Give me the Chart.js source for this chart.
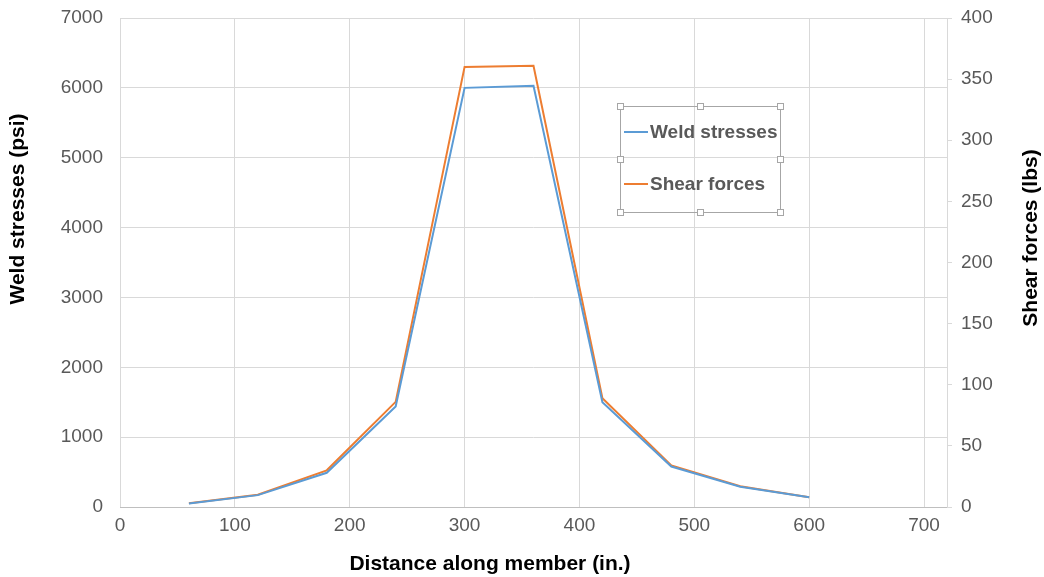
<!DOCTYPE html>
<html>
<head>
<meta charset="utf-8">
<script src="https://cdn.jsdelivr.net/npm/chart.js@4/dist/chart.umd.min.js"></script>
<style>
  html, body { margin: 0; padding: 0; background: #fff; }
  #wrap { width: 1044px; height: 577px; position: relative; }
</style>
</head>
<body>
<div id="wrap"><canvas id="weldChart"></canvas></div>
<script>
// Data
const distances = [60, 120, 180, 240, 300, 360, 420, 480, 540, 600];
const weldStresses = [50, 170, 490, 1440, 6000, 6030, 1500, 580, 290, 140];
const shearForces = [3, 10, 30, 86, 360, 361, 89, 34, 17, 8];
const xTicks = [0, 100, 200, 300, 400, 500, 600, 700];

const colors = {
    weld: '#5B9BD5',
    shear: '#ED7D31',
    grid: '#D9D9D9',
    tick: '#595959',
    title: '#000000'
};

const FONT = '"Liberation Sans", Arial, sans-serif';
const toPoints = (ys) => distances.map((x, i) => ({ x: x, y: ys[i] }));

// Axis titles (Excel puts both vertical titles bottom-to-top)
const axisTitles = {
    id: 'axisTitles',
    afterDraw(chart) {
        const ctx = chart.ctx;
        ctx.save();
        ctx.fillStyle = colors.title;
        ctx.font = 'bold 21px ' + FONT;
        ctx.textAlign = 'center';
        ctx.textBaseline = 'middle';
        ctx.fillText('Distance along member (in.)', 490, 564);
        [[18, 209, 'Weld stresses (psi)'], [1031, 238, 'Shear forces (lbs)']].forEach(([x, y, t]) => {
            ctx.save();
            ctx.translate(x, y);
            ctx.rotate(-Math.PI / 2);
            ctx.fillText(t, 0, 0);
            ctx.restore();
        });
        ctx.restore();
    }
};

// Legend box drawn inside the plot area, Excel style with selection handles
const boxLegend = {
    id: 'boxLegend',
    afterDraw(chart) {
        const ctx = chart.ctx;
        const x = 620, y = 106, w = 160, h = 106;
        ctx.save();
        ctx.strokeStyle = '#A6A6A6';
        ctx.lineWidth = 1;
        ctx.strokeRect(x + 0.5, y + 0.5, w, h);
        chart.data.datasets.forEach((ds, i) => {
            const ly = y + 26 + i * 52;
            ctx.strokeStyle = ds.borderColor;
            ctx.lineWidth = 2;
            ctx.beginPath();
            ctx.moveTo(x + 4, ly);
            ctx.lineTo(x + 28, ly);
            ctx.stroke();
            ctx.fillStyle = colors.tick;
            ctx.font = 'bold 19px ' + FONT;
            ctx.textBaseline = 'middle';
            ctx.fillText(ds.label, x + 30, ly + 1);
        });
        const hs = [[x, y], [x + w / 2, y], [x + w, y], [x, y + h / 2], [x + w, y + h / 2],
                    [x, y + h], [x + w / 2, y + h], [x + w, y + h]];
        ctx.lineWidth = 1;
        ctx.strokeStyle = '#A6A6A6';
        ctx.fillStyle = '#FFFFFF';
        hs.forEach(([hx, hy]) => {
            ctx.fillRect(Math.round(hx) - 2.5, Math.round(hy) - 2.5, 6, 6);
            ctx.strokeRect(Math.round(hx) - 2.5, Math.round(hy) - 2.5, 6, 6);
        });
        ctx.restore();
    }
};

const tickFont = { family: FONT, size: 19 };
const plain = (v) => String(v);
const fitY = (width) => (axis) => {
    axis.width = width;
    axis.paddingTop = 0;
    axis.paddingBottom = 0;
};

new Chart(document.getElementById('weldChart'), {
    type: 'scatter',
    data: {
        datasets: [{
            label: 'Weld stresses',
            data: toPoints(weldStresses),
            yAxisID: 'y',
            showLine: true,
            borderColor: colors.weld,
            backgroundColor: colors.weld,
            borderWidth: 2,
            pointRadius: 0,
            tension: 0
        }, {
            label: 'Shear forces',
            data: toPoints(shearForces),
            yAxisID: 'y1',
            showLine: true,
            borderColor: colors.shear,
            backgroundColor: colors.shear,
            borderWidth: 2,
            pointRadius: 0,
            tension: 0
        }]
    },
    options: {
        responsive: true,
        maintainAspectRatio: false,
        animation: false,
        layout: { padding: { top: 18, left: 0, right: 0, bottom: 0 } },
        plugins: {
            legend: { display: false },
            tooltip: { enabled: false }
        },
        scales: {
            x: {
                type: 'linear',
                min: 0,
                max: 720,
                afterBuildTicks: (axis) => { axis.ticks = xTicks.map(v => ({ value: v })); },
                afterFit: (axis) => { axis.height = 70; },
                ticks: { color: colors.tick, font: tickFont, padding: 7, maxRotation: 0, callback: plain },
                grid: { color: colors.grid, drawTicks: false },
                border: { color: '#BFBFBF' }
            },
            y: {
                position: 'left',
                min: 0,
                max: 7000,
                afterFit: fitY(120),
                ticks: { stepSize: 1000, color: colors.tick, font: tickFont, padding: 17, callback: plain },
                grid: { color: colors.grid, drawTicks: false },
                border: { display: false }
            },
            y1: {
                position: 'right',
                min: 0,
                max: 400,
                afterFit: fitY(97),
                ticks: { stepSize: 50, color: colors.tick, font: tickFont, padding: 9, callback: plain },
                grid: { color: colors.grid, drawOnChartArea: false, drawTicks: true, tickLength: 5 },
                border: { color: colors.grid }
            }
        }
    },
    plugins: [boxLegend, axisTitles]
});
</script>
</body>
</html>
